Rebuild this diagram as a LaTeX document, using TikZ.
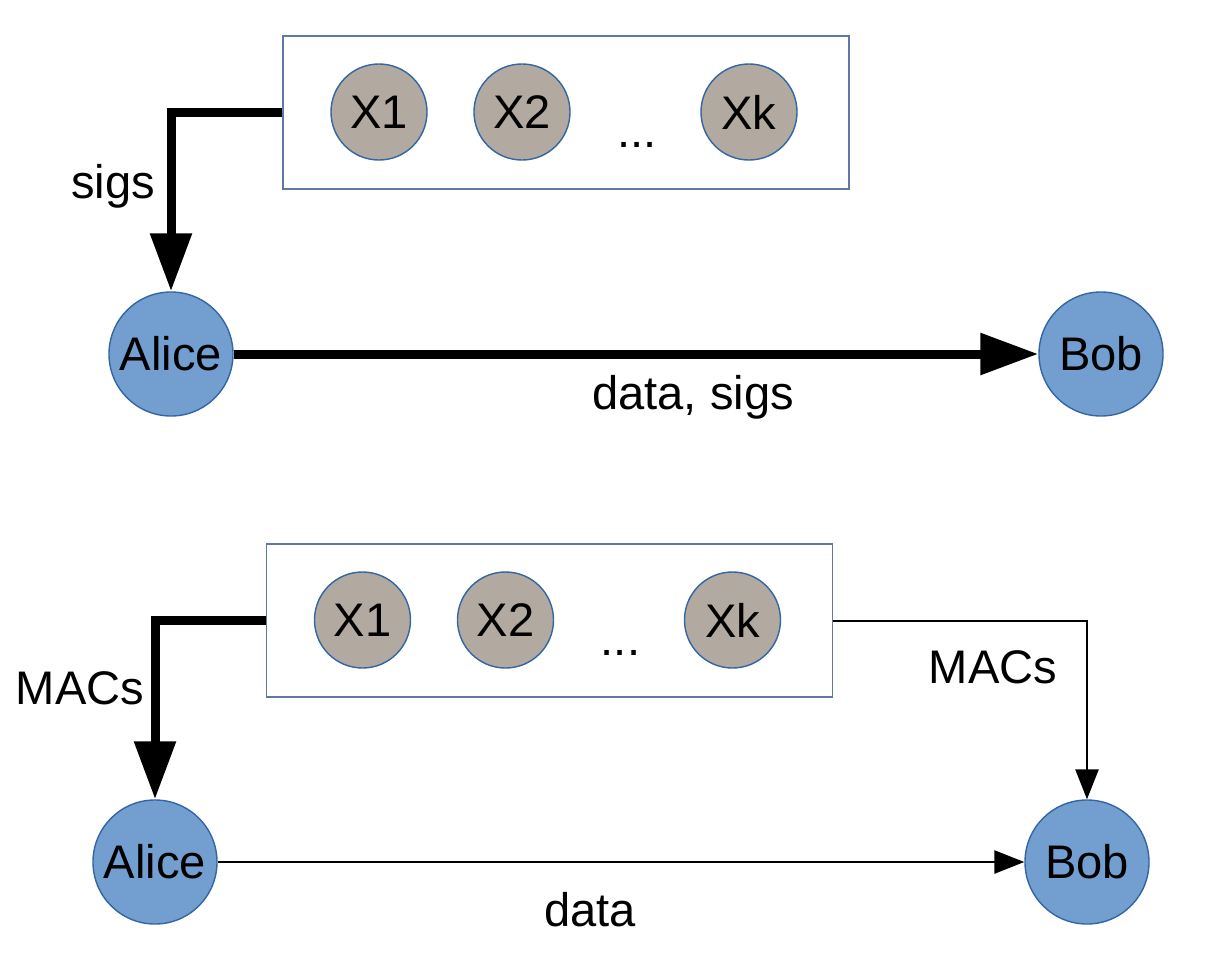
\documentclass[tikz,border=0pt]{standalone}
\usepackage{fontspec}
\setmainfont{Liberation Sans}
\usetikzlibrary{
    positioning,
    arrows.meta
    }

\definecolor{partyblue}{RGB}{114,159,207}
\definecolor{partyedge}{RGB}{52,101,164}
\definecolor{helpergray}{RGB}{178,170,160}
\definecolor{boxedge}{RGB}{96,120,165}

\begin{document}
\begin{tikzpicture}[x=0.025cm, y=-0.025cm, font=\fontsize{33.5}{40}\selectfont]
\tikzset{party/.style =
        {
            shape=circle,
            draw=partyedge,
            fill=partyblue,
            line width=1pt,
            minimum size=3.1cm,
            inner sep=0cm
        }
}

\tikzset{helper/.style =
        {
            party,
            fill=helpergray,
            minimum size=2.4cm
        }
}

\tikzset{group/.style =
        {
            rectangle,
            draw=boxedge,
            line width=1pt,
            minimum width=14.15cm,
            minimum height=3.825cm,
            inner sep=0cm
        }
}

\tikzset{bigmove/.style = {
            line width=0.225cm,
            -{Triangle[length=1.45cm, width=1cm]}
        }
}

\tikzset{smallmove/.style = {
            line width=0.05cm,
            -{Triangle[length=0.75cm, width=0.58cm]}
        }
}

		\useasboundingbox (0,0) rectangle (1230,980);

		\foreach \panel / \dx / \dy in
			{1/0/0,
				2/-16.5/508}
		{
			\node[group] at (566+\dx,112.5+\dy) (box\panel) {};
			\node[helper] at (379+\dx,112+\dy) (xone\panel) {X1};
			\node[helper] at (522+\dx,112+\dy) (xtwo\panel) {X2};
			\node[helper] at (749+\dx,112+\dy) (xk\panel) {Xk};
			\node[anchor=base] at (637+\dx,147+\dy) (dots\panel) {...};
		}

		\node[party] at (171,354) (alice1) {Alice};
		\node[party] at (1101,354) (bob1) {Bob};
		\node[party] at (155,862) (alice2) {Alice};
		\node[party] at (1087,862) (bob2) {Bob};

		\draw [bigmove] (box1.west) -| (alice1.north);
		\draw [bigmove] (alice1) -- (bob1);
		\draw [bigmove] (box2.west) -| (alice2.north);
		\draw [smallmove] (alice2) -- (bob2);
		\draw [smallmove] (box2.east) -| (bob2.north);

		\node at (113,186) (sigs1) {sigs};
		\node at (693,397) (datasigs) {data, sigs};
		\node at (80,688) (macs1) {MACs};
		\node at (993,667) (macs2) {MACs};
		\node at (590,910) (data2) {data};

	\end{tikzpicture}
\end{document}
